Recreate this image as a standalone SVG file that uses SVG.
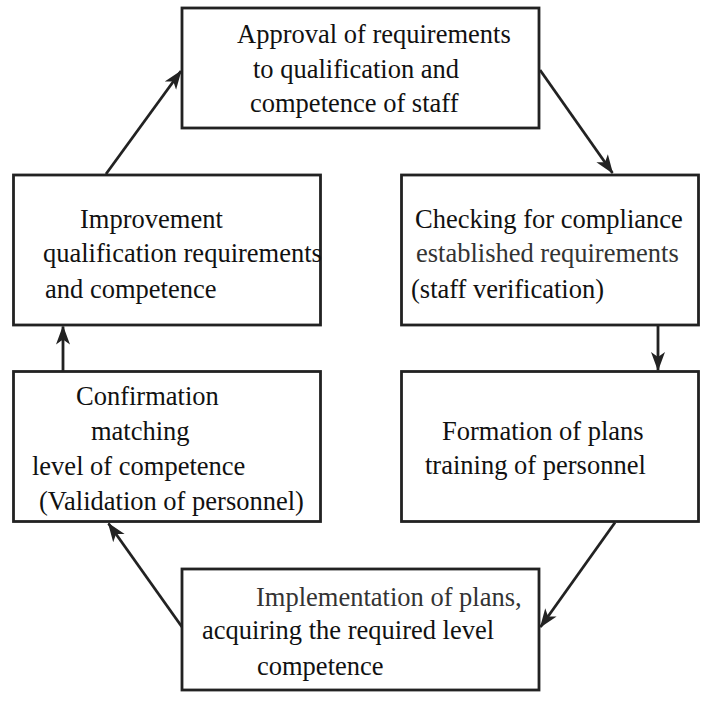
<svg xmlns="http://www.w3.org/2000/svg" width="701" height="712" viewBox="0 0 701 712">
  <style>
    .box { fill: #ffffff; stroke: #222222; stroke-width: 2.8; }
    .lbl { font-family: "Liberation Serif", "Times New Roman", serif; font-size: 26.5px; fill: #111111; }
    .lbl2 { fill: #333333; }
    .edge { fill: none; stroke: #222222; stroke-width: 2.8; }
  </style>
  <defs>
    <marker id="arr" markerUnits="userSpaceOnUse" markerWidth="20" markerHeight="16" refX="18" refY="8" orient="auto">
      <path d="M0,1 L19,8 L0,15 L5,8 Z" fill="#222222"/>
    </marker>
  </defs>
  <rect width="701" height="712" fill="#ffffff"/>

  <g id="n-approval">
    <rect class="box" x="182" y="8" width="357" height="120"/>
    <text class="lbl" x="237" y="43">Approval of requirements</text>
    <text class="lbl" x="253" y="78">to qualification and</text>
    <text class="lbl" x="250" y="112">competence of staff</text>
  </g>

  <g id="n-improvement">
    <rect class="box" x="13.5" y="175" width="307" height="150"/>
    <text class="lbl" x="80" y="228">Improvement</text>
    <text class="lbl" x="43" y="262">qualification requirements</text>
    <text class="lbl" x="45" y="298">and competence</text>
  </g>

  <g id="n-checking">
    <rect class="box" x="401.5" y="175" width="297" height="150"/>
    <text class="lbl" x="415" y="228">Checking for compliance</text>
    <text class="lbl lbl2" x="416" y="262">established requirements</text>
    <text class="lbl" x="411" y="298">(staff verification)</text>
  </g>

  <g id="n-confirmation">
    <rect class="box" x="13.5" y="371.5" width="307" height="150"/>
    <text class="lbl" x="76" y="405">Confirmation</text>
    <text class="lbl" x="91" y="440">matching</text>
    <text class="lbl" x="32" y="475">level of competence</text>
    <text class="lbl" x="39" y="510">(Validation of personnel)</text>
  </g>

  <g id="n-formation">
    <rect class="box" x="401.5" y="371.5" width="297" height="150"/>
    <text class="lbl" x="442" y="440">Formation of plans</text>
    <text class="lbl" x="425" y="474">training of personnel</text>
  </g>

  <g id="n-implementation">
    <rect class="box" x="182" y="569" width="357" height="121"/>
    <text class="lbl lbl2" x="256" y="606">Implementation of plans,</text>
    <text class="lbl" x="202" y="639">acquiring the required level</text>
    <text class="lbl" x="257" y="675">competence</text>
  </g>

  <g id="connectors">
    <line class="edge" x1="106" y1="174" x2="181" y2="71" marker-end="url(#arr)"/>
    <line class="edge" x1="540" y1="70" x2="612.5" y2="173" marker-end="url(#arr)"/>
    <line class="edge" x1="658" y1="326" x2="658" y2="370" marker-end="url(#arr)"/>
    <line class="edge" x1="615" y1="522.5" x2="540.5" y2="627" marker-end="url(#arr)"/>
    <line class="edge" x1="182" y1="627" x2="108.5" y2="523.5" marker-end="url(#arr)"/>
    <line class="edge" x1="63" y1="371" x2="63" y2="326.5" marker-end="url(#arr)"/>
  </g>
</svg>
